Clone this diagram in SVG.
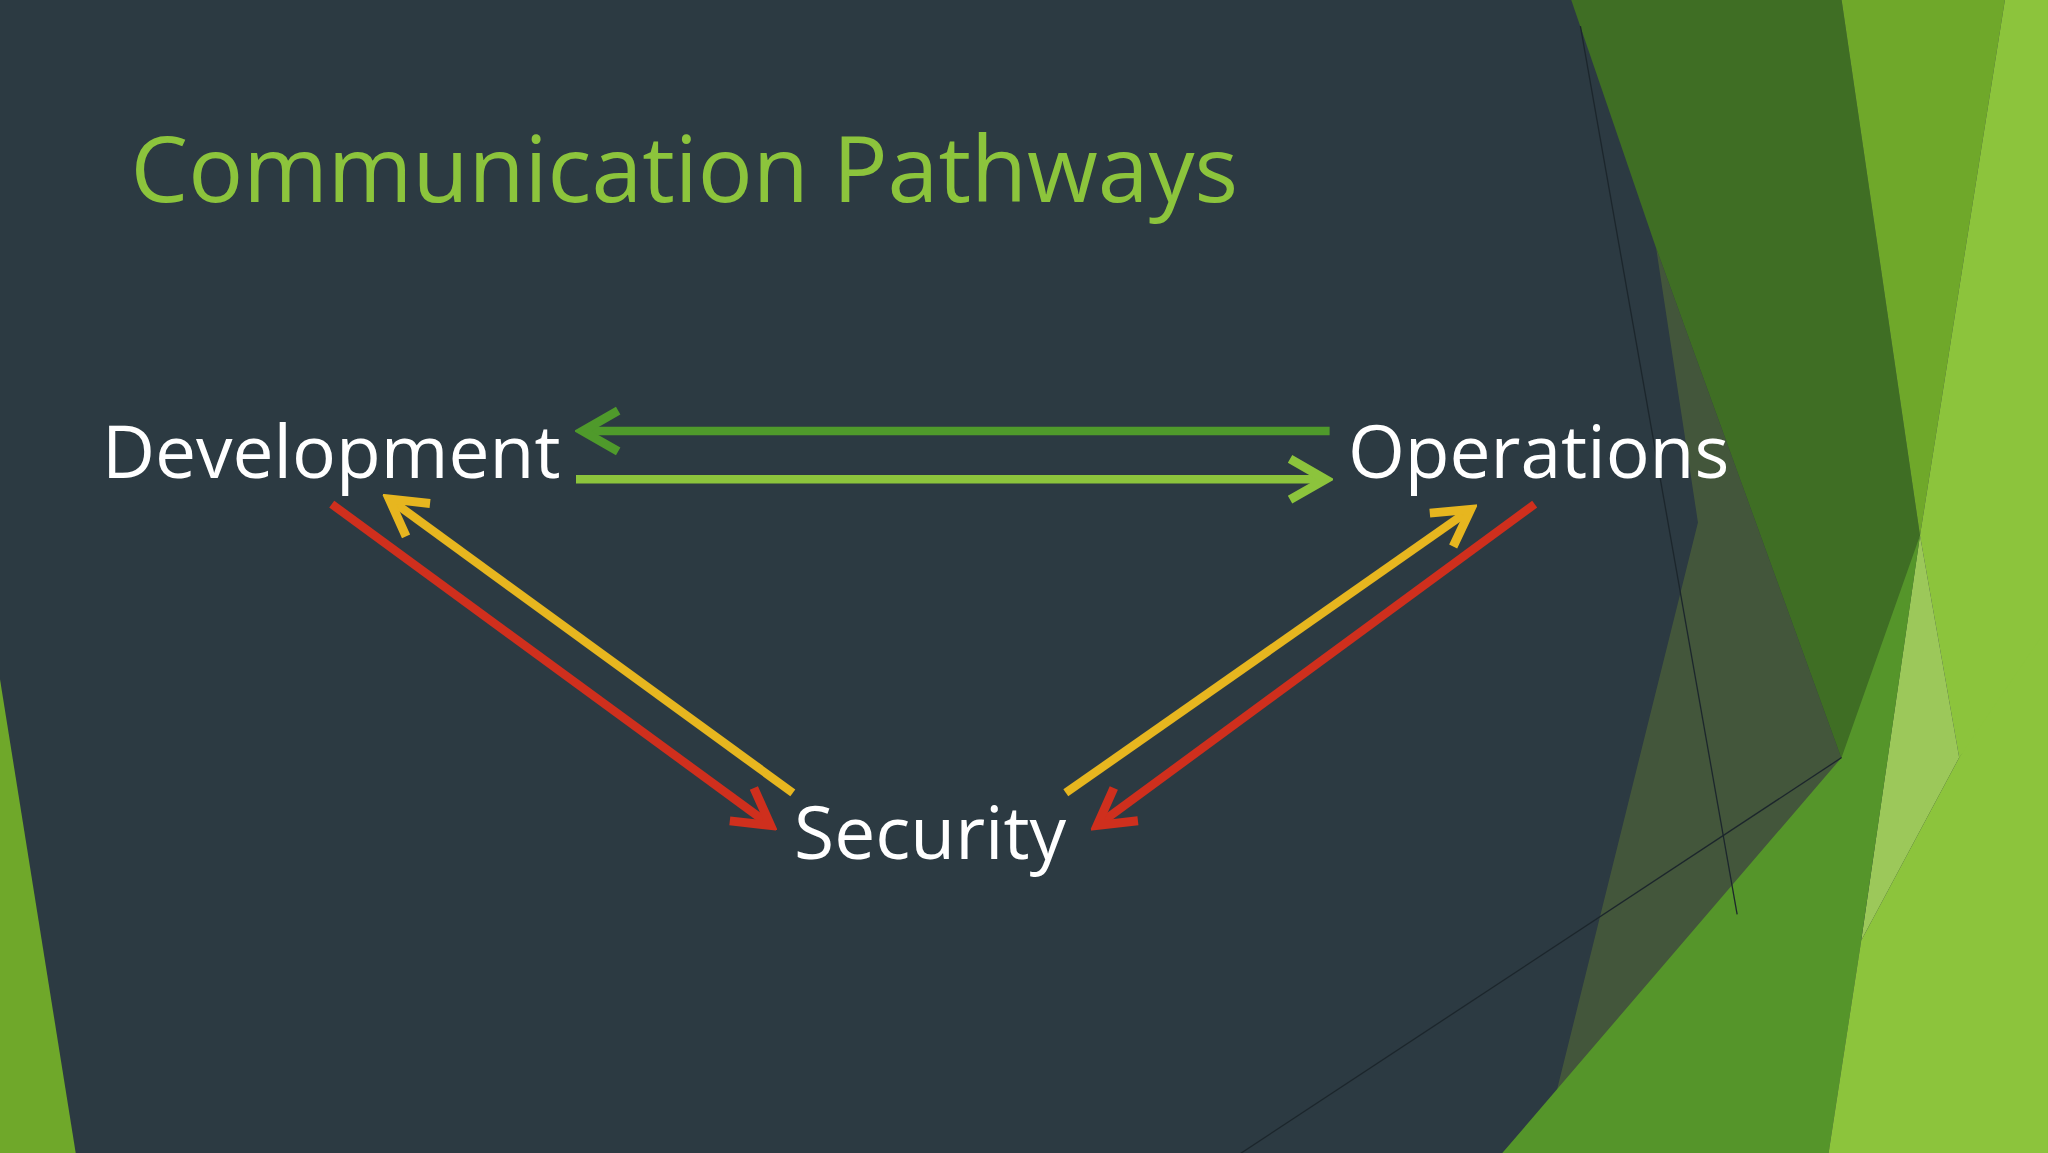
<svg xmlns="http://www.w3.org/2000/svg" width="2048" height="1153" viewBox="0 0 2048 1153">
<defs>
<style>
.t{font-family:"Open Sans","Liberation Sans",sans-serif;}
.lbl{fill:#ffffff;font-size:56px;}
.c{fill:none;stroke-width:6.5;stroke-linecap:butt;}
</style>
<marker id="mG" viewBox="0 0 20 20" refX="17" refY="10" markerWidth="6" markerHeight="6" orient="auto" markerUnits="strokeWidth"><path d="M3,2 L17,10 L3,18" fill="none" stroke="#4f9a2b" stroke-width="3.5"/></marker>
<marker id="mL" viewBox="0 0 20 20" refX="17" refY="10" markerWidth="6" markerHeight="6" orient="auto" markerUnits="strokeWidth"><path d="M3,2 L17,10 L3,18" fill="none" stroke="#8cc43c" stroke-width="3.5"/></marker>
<marker id="mR" viewBox="0 0 20 20" refX="17" refY="10" markerWidth="6" markerHeight="6" orient="auto" markerUnits="strokeWidth"><path d="M3,2 L17,10 L3,18" fill="none" stroke="#cf2f1d" stroke-width="3.5"/></marker>
<marker id="mY" viewBox="0 0 20 20" refX="17" refY="10" markerWidth="6" markerHeight="6" orient="auto" markerUnits="strokeWidth"><path d="M3,2 L17,10 L3,18" fill="none" stroke="#e7b61f" stroke-width="3.5"/></marker>
</defs>
<rect width="2048" height="1153" fill="#2c3a42"/>
<g transform="scale(1.30612)">
<g id="background">
<polygon points="1203,0 1410,0 1470,410 1435,650 1268,190" fill="#3f6e24"/>
<polygon points="1268,190 1435,650 1410,580 1180,883 1300,400" fill="#4a5e3a" opacity="0.8"/>
<polygon points="1410,0 1535,0 1470,410" fill="#6fa82a"/>
<polygon points="1535,0 1568,0 1568,500 1500,580 1470,410" fill="#8cc43c"/>
<polygon points="1470,410 1500,580 1425,720" fill="#9cc85a"/>
<polygon points="1410,580 1470,410 1425,720 1400,883 1150,883" fill="#55952a"/>
<polygon points="1568,480 1568,883 1400,883 1425,720 1500,580" fill="#8cc43c"/>
<polygon points="0,520 58,883 0,883" fill="#6fa82a"/>
<line x1="1210" y1="20" x2="1330" y2="700" stroke="#1c262c" stroke-width="1"/>
<line x1="950" y1="883" x2="1410" y2="580" stroke="#1c262c" stroke-width="1"/>
</g>
<g id="title"><text class="t" x="100" y="155" font-size="70" fill="#8cc43c">Communication Pathways</text></g>
<g id="development"><text class="t lbl" x="78" y="366">Development</text></g>
<g id="operations"><text class="t lbl" x="1032" y="366">Operations</text></g>
<g id="security"><text class="t lbl" x="608" y="658">Security</text></g>
<g id="connectors">
<line class="c" x1="1018" y1="330" x2="446" y2="330" stroke="#4f9a2b" marker-end="url(#mG)"/>
<line class="c" x1="441" y1="367" x2="1015" y2="367" stroke="#8cc43c" marker-end="url(#mL)"/>
<line class="c" x1="254" y1="386" x2="590" y2="632" stroke="#cf2f1d" marker-end="url(#mR)"/>
<line class="c" x1="607" y1="607" x2="298" y2="382" stroke="#e7b61f" marker-end="url(#mY)"/>
<line class="c" x1="816" y1="607" x2="1126" y2="390" stroke="#e7b61f" marker-end="url(#mY)"/>
<line class="c" x1="1175" y1="386" x2="840" y2="632" stroke="#cf2f1d" marker-end="url(#mR)"/>
</g>
</g>
</svg>
